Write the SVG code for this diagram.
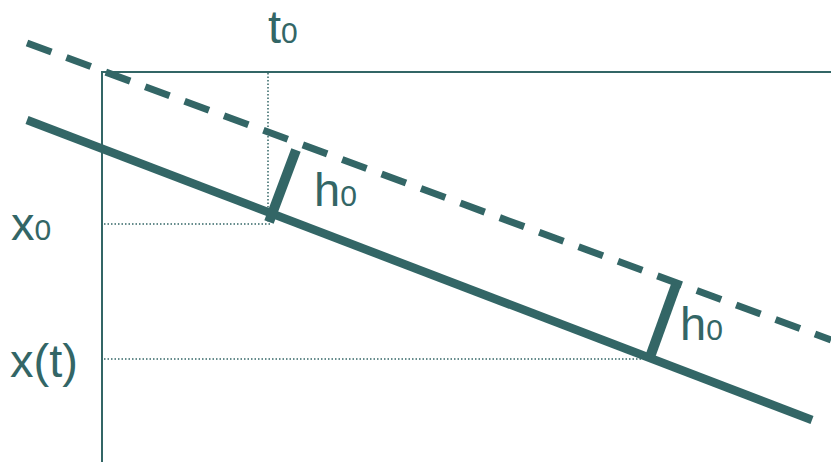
<svg xmlns="http://www.w3.org/2000/svg" width="831" height="462" viewBox="0 0 831 462">
<style>
.ax{stroke:#336666;stroke-width:2;fill:none}
.dot{stroke:#336666;stroke-width:1.5;stroke-dasharray:1.5 2;fill:none}
.solid{stroke:#336666;stroke-width:8.5;fill:none}
.dash{stroke:#336666;stroke-width:7;stroke-dasharray:26 16;fill:none}
.bar{stroke:#336666;stroke-width:10;fill:none}
text{font-family:"Liberation Sans",Arial,sans-serif;font-size:47px;fill:#336666}
.sub{font-size:30px}
</style>
<rect width="831" height="462" fill="#ffffff"/>
<g id="axes">
<line class="ax" x1="102" y1="72" x2="102" y2="462"/>
<line class="ax" x1="101" y1="72" x2="831" y2="72"/>
</g>
<g id="guides">
<line class="dot" x1="268" y1="73" x2="268" y2="222"/>
<line class="dot" x1="104" y1="224" x2="270" y2="224"/>
<line class="dot" x1="104" y1="359" x2="650" y2="359"/>
</g>
<g id="connectors">
<line id="dashed-line" class="dash" x1="27" y1="43" x2="831" y2="340"/>
<line id="solid-line" class="solid" x1="27" y1="120" x2="812" y2="420"/>
<line id="h0-bar-1" class="bar" x1="296" y1="150" x2="269" y2="222"/>
<line id="h0-bar-2" class="bar" x1="676" y1="285" x2="650" y2="357"/>
</g>
<g id="labels">
<text id="t0" x="268" y="43">t<tspan class="sub">0</tspan></text>
<text id="x0" x="11" y="240">x<tspan class="sub">0</tspan></text>
<text id="xt" x="10" y="377">x(t)</text>
<text id="h0a" x="314" y="206">h<tspan class="sub">0</tspan></text>
<text id="h0b" x="680" y="340">h<tspan class="sub">0</tspan></text>
</g>
</svg>
